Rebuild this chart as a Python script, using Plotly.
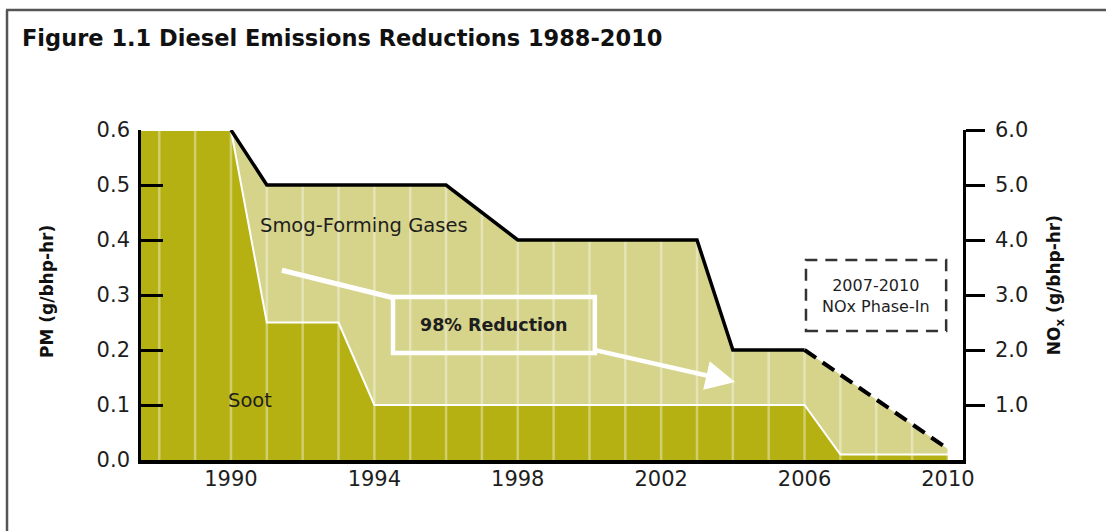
import plotly.graph_objects as go

# ---- data ----
soot_years = [1987.49, 1990, 1991, 1993, 1994, 2006, 2007, 2010]
soot_pm = [0.6, 0.6, 0.25, 0.25, 0.10, 0.10, 0.01, 0.01]

nox_years = [1990, 1991, 1996, 1998, 2003, 2004, 2006]
nox_vals = [6.0, 5.0, 5.0, 4.0, 4.0, 2.0, 2.0]
phase_years = [2006, 2010]
phase_vals = [2.0, 0.2]

grid_years = list(range(1988, 2011))
x_tick_years = [1990, 1994, 1998, 2002, 2006, 2010]
pm_ticks = [0.0, 0.1, 0.2, 0.3, 0.4, 0.5, 0.6]
pm_labels = ["0.0", "0.1", "0.2", "0.3", "0.4", "0.5", "0.6"]
nox_ticks = [1, 2, 3, 4, 5, 6]
nox_labels = ["1.0", "2.0", "3.0", "4.0", "5.0", "6.0"]

DARK = "#B5B112"
LIGHT = "#D6D48B"
TXT = "#1e1e1e"
FONT = "DejaVu Sans"

fig = go.Figure()

# smog-forming gases (light) - base axis
fig.add_trace(go.Scatter(x=nox_years + phase_years[1:], y=nox_vals + phase_vals[1:],
                         yaxis="y", mode="lines", line=dict(width=0),
                         fill="tozeroy", fillcolor=LIGHT, hoverinfo="skip", showlegend=False))
# soot (dark)
fig.add_trace(go.Scatter(x=soot_years, y=soot_pm, yaxis="y2", mode="lines",
                         line=dict(color="white", width=2),
                         fill="tozeroy", fillcolor=DARK, hoverinfo="skip", showlegend=False))
# yearly light gridlines
gx, gy = [], []
for yr in grid_years:
    gx += [yr, yr, None]
    gy += [0, 0.6, None]
fig.add_trace(go.Scatter(x=gx, y=gy, yaxis="y2", mode="lines",
                         line=dict(color="rgba(255,255,255,0.38)", width=2.5),
                         hoverinfo="skip", showlegend=False))
# NOx standard line
fig.add_trace(go.Scatter(x=nox_years, y=nox_vals, yaxis="y3", mode="lines",
                         line=dict(color="black", width=3.5), hoverinfo="skip", showlegend=False))
fig.add_trace(go.Scatter(x=phase_years, y=phase_vals, yaxis="y3", mode="lines",
                         line=dict(color="black", width=4, dash="14px,8px"),
                         hoverinfo="skip", showlegend=False))
# invisible trace to hold the tick-mark axis
fig.add_trace(go.Scatter(x=[soot_years[0]], y=[0], yaxis="y4", mode="markers",
                         marker=dict(opacity=0), hoverinfo="skip", showlegend=False))

fig.update_layout(
    width=1106, height=531,
    margin=dict(l=141, r=143, t=130, b=71),
    paper_bgcolor="white", plot_bgcolor="white",
    font=dict(family=FONT, color=TXT),
    title=dict(text="<b>Figure 1.1 Diesel Emissions Reductions 1988-2010</b>",
               x=22 / 1106, xanchor="left", xref="container",
               y=1 - 38 / 531, yanchor="middle", yref="container",
               font=dict(family=FONT, size=22.5, color="#111")),
    xaxis=dict(range=[1987.49, 2010.42], tickvals=x_tick_years,
               ticktext=[str(v) for v in x_tick_years], ticks="",
               showline=True, linecolor="black", linewidth=3.5,
               showgrid=False, zeroline=False, ticklabelstandoff=-3,
               tickfont=dict(size=21, color=TXT)),
    yaxis=dict(range=[0, 6], visible=False, showgrid=False, zeroline=False),
    yaxis2=dict(range=[0, 0.6], overlaying="y", side="left", tickvals=pm_ticks,
                ticktext=pm_labels, ticks="", showline=False, showgrid=False,
                zeroline=False, ticklabelstandoff=10,
                tickfont=dict(size=21, color=TXT)),
    yaxis3=dict(range=[0, 6], overlaying="y", side="right", tickvals=nox_ticks,
                ticktext=nox_labels, ticks="outside", ticklen=19, tickwidth=2.5,
                tickcolor="black", showline=True, linecolor="black", linewidth=2.5,
                showgrid=False, zeroline=False, ticklabelstandoff=6,
                tickfont=dict(size=21, color=TXT)),
    yaxis4=dict(range=[0, 0.6], overlaying="y", side="left", tickvals=pm_ticks[1:-1],
                showticklabels=False, ticks="inside", ticklen=22, tickwidth=2.5,
                tickcolor="black", showline=True, linecolor="black", linewidth=2.5,
                showgrid=False, zeroline=False),
    showlegend=False,
)

# frame lines
fig.add_shape(type="line", xref="paper", yref="paper", x0=-0.1642, x1=1.18,
              y0=1.3636, y1=1.3636, line=dict(color="#555", width=2.5))
fig.add_shape(type="line", xref="paper", yref="paper", x0=-0.163, x1=-0.163,
              y0=1.3636, y1=-0.25, line=dict(color="#555", width=2.5))

# 98% reduction callout
fig.add_shape(type="line", xref="x", yref="y2", x0=1991.42, y0=0.345, x1=1994.52, y1=0.295,
              line=dict(color="white", width=5))
fig.add_shape(type="rect", xref="x", yref="y2", x0=1994.52, x1=2000.15, y0=0.1945, y1=0.2964,
              line=dict(color="white", width=4.5))
fig.add_annotation(x=2004.06, y=0.142, ax=2000.15, ay=0.2, axref="x", ayref="y2",
                   xref="x", yref="y2", text="", showarrow=True, arrowhead=2,
                   arrowsize=1.3, arrowwidth=4.5, arrowcolor="white")
fig.add_annotation(xref="x", yref="y2", x=(1994.52 + 2000.15) / 2, y=0.246,
                   text="<b>98% Reduction</b>", showarrow=False,
                   font=dict(family=FONT, size=17.5, color=TXT))

# phase-in box
fig.add_shape(type="rect", xref="x", yref="y2", x0=2006.04, x1=2009.95, y0=0.2345, y1=0.3636,
              line=dict(color="#333", width=2.5, dash="12px,8px"))
fig.add_annotation(xref="x", yref="y2", x=(2006.04 + 2009.95) / 2, y=0.299,
                   text="2007-2010<br>NOx Phase-In",
                   showarrow=False, font=dict(family=FONT, size=16, color=TXT))

# series labels
fig.add_annotation(xref="x", yref="y2", x=1990.75, y=0.427, text="Smog-Forming Gases",
                   xanchor="left", showarrow=False, font=dict(family=FONT, size=19.5, color=TXT))
fig.add_annotation(xref="x", yref="y2", x=1989.86, y=0.109, text="Soot", xanchor="left",
                   showarrow=False, font=dict(family=FONT, size=19.5, color=TXT))

# axis titles
fig.add_annotation(xref="paper", yref="paper", x=-0.1144, y=0.512, textangle=-90,
                   xanchor="center", yanchor="middle",
                   text="<b>PM (g/bhp-hr)</b>", showarrow=False,
                   font=dict(family=FONT, size=17, color="#111"))
fig.add_annotation(xref="paper", yref="paper", x=1.112, y=0.53, textangle=-90,
                   xanchor="center", yanchor="middle",
                   text="<b>NO<sub>x</sub> (g/bhp-hr)</b>", showarrow=False,
                   font=dict(family=FONT, size=17, color="#111"))

fig.write_html("out.html")
